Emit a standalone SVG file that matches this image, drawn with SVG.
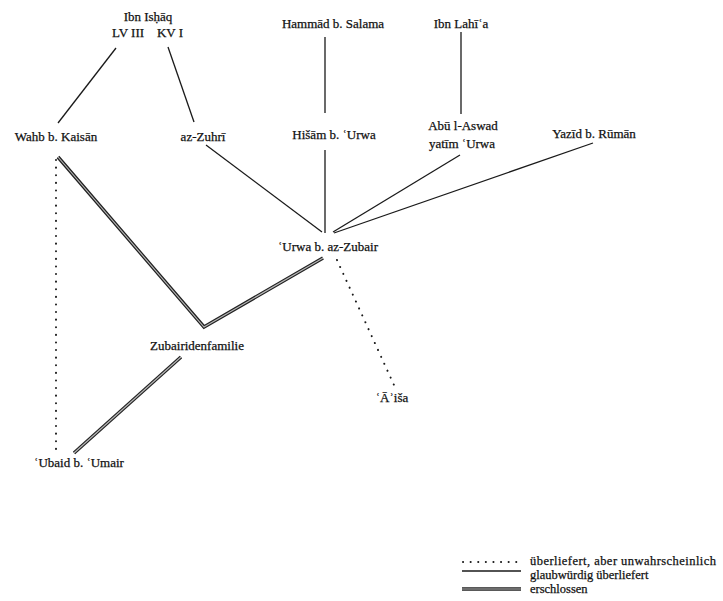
<svg xmlns="http://www.w3.org/2000/svg" width="723" height="601" viewBox="0 0 723 601">
<style>
text{font-family:"Liberation Serif","DejaVu Serif",serif;font-size:13px;fill:#111;stroke:#111;stroke-width:0.25;text-anchor:middle}
text.l{text-anchor:start;font-size:12.5px}
.s{stroke:#1a1a1a;stroke-width:1.3;fill:none}
.d{stroke:#1a1a1a;stroke-width:2;fill:none;stroke-dasharray:0.1 7.5;stroke-linecap:round}
.e1{stroke:#222;stroke-width:3.6;fill:none;stroke-linejoin:miter}
.e2{stroke:#b8b8b8;stroke-width:1.1;fill:none}
</style>
<rect width="723" height="601" fill="#fff"/>
<g id="connectors">
<line class="s" x1="116" y1="48" x2="58" y2="123"/>
<line class="s" x1="168" y1="47" x2="194" y2="122"/>
<line class="s" x1="325" y1="37" x2="325" y2="113"/>
<line class="s" x1="461" y1="32" x2="461" y2="114"/>
<line class="s" x1="325" y1="150" x2="325" y2="233"/>
<line class="s" x1="206" y1="145" x2="322" y2="232"/>
<line class="s" x1="460" y1="155" x2="333" y2="232"/>
<line class="s" x1="593" y1="143" x2="334" y2="233"/>
<line class="d" x1="337" y1="260" x2="394" y2="385"/>
<line class="d" x1="56" y1="160" x2="56" y2="450"/>
<g>
<polyline class="e1" points="58,157 204,327 323,258"/>
<polyline class="e2" points="58,157 204,327 323,258"/>
<line class="e1" x1="181" y1="357" x2="74" y2="453"/>
<line class="e2" x1="181" y1="357" x2="74" y2="453"/>
</g>
</g>
<g id="n-ibnishaq"><text x="148" y="21">Ibn Isḥāq</text><text x="128" y="37">LV III</text><text x="170" y="37">KV I</text></g>
<g id="n-hammad"><text x="333" y="28">Hammād b. Salama</text></g>
<g id="n-ibnlahia"><text x="461" y="28">Ibn Lahīʿa</text></g>
<g id="n-wahb"><text x="56" y="141">Wahb b. Kaisān</text></g>
<g id="n-zuhri"><text x="203" y="141">az-Zuhrī</text></g>
<g id="n-hisam"><text x="334" y="139">Hišām b. ʿUrwa</text></g>
<g id="n-abulaswad"><text x="463" y="130">Abū l-Aswad</text><text x="462" y="148">yatīm ʿUrwa</text></g>
<g id="n-yazid"><text x="594" y="138">Yazīd b. Rūmān</text></g>
<g id="n-urwa"><text x="328" y="251">ʿUrwa b. az-Zubair</text></g>
<g id="n-zubairiden"><text x="197" y="350">Zubairidenfamilie</text></g>
<g id="n-aisa"><text x="392" y="402">ʿĀʾiša</text></g>
<g id="n-ubaid"><text x="79" y="467">ʿUbaid b. ʿUmair</text></g>
<g id="legend">
<line class="d" x1="463" y1="562" x2="520" y2="562"/>
<text class="l" x="530" y="565" textLength="186">überliefert, aber unwahrscheinlich</text>
<line class="s" x1="462" y1="571" x2="521" y2="571"/>
<text class="l" x="530" y="579">glaubwürdig überliefert</text>
<line class="e1" x1="462" y1="589" x2="521" y2="589"/>
<line class="e2" x1="462" y1="589" x2="521" y2="589"/>
<text class="l" x="530" y="593">erschlossen</text>
</g>
</svg>
